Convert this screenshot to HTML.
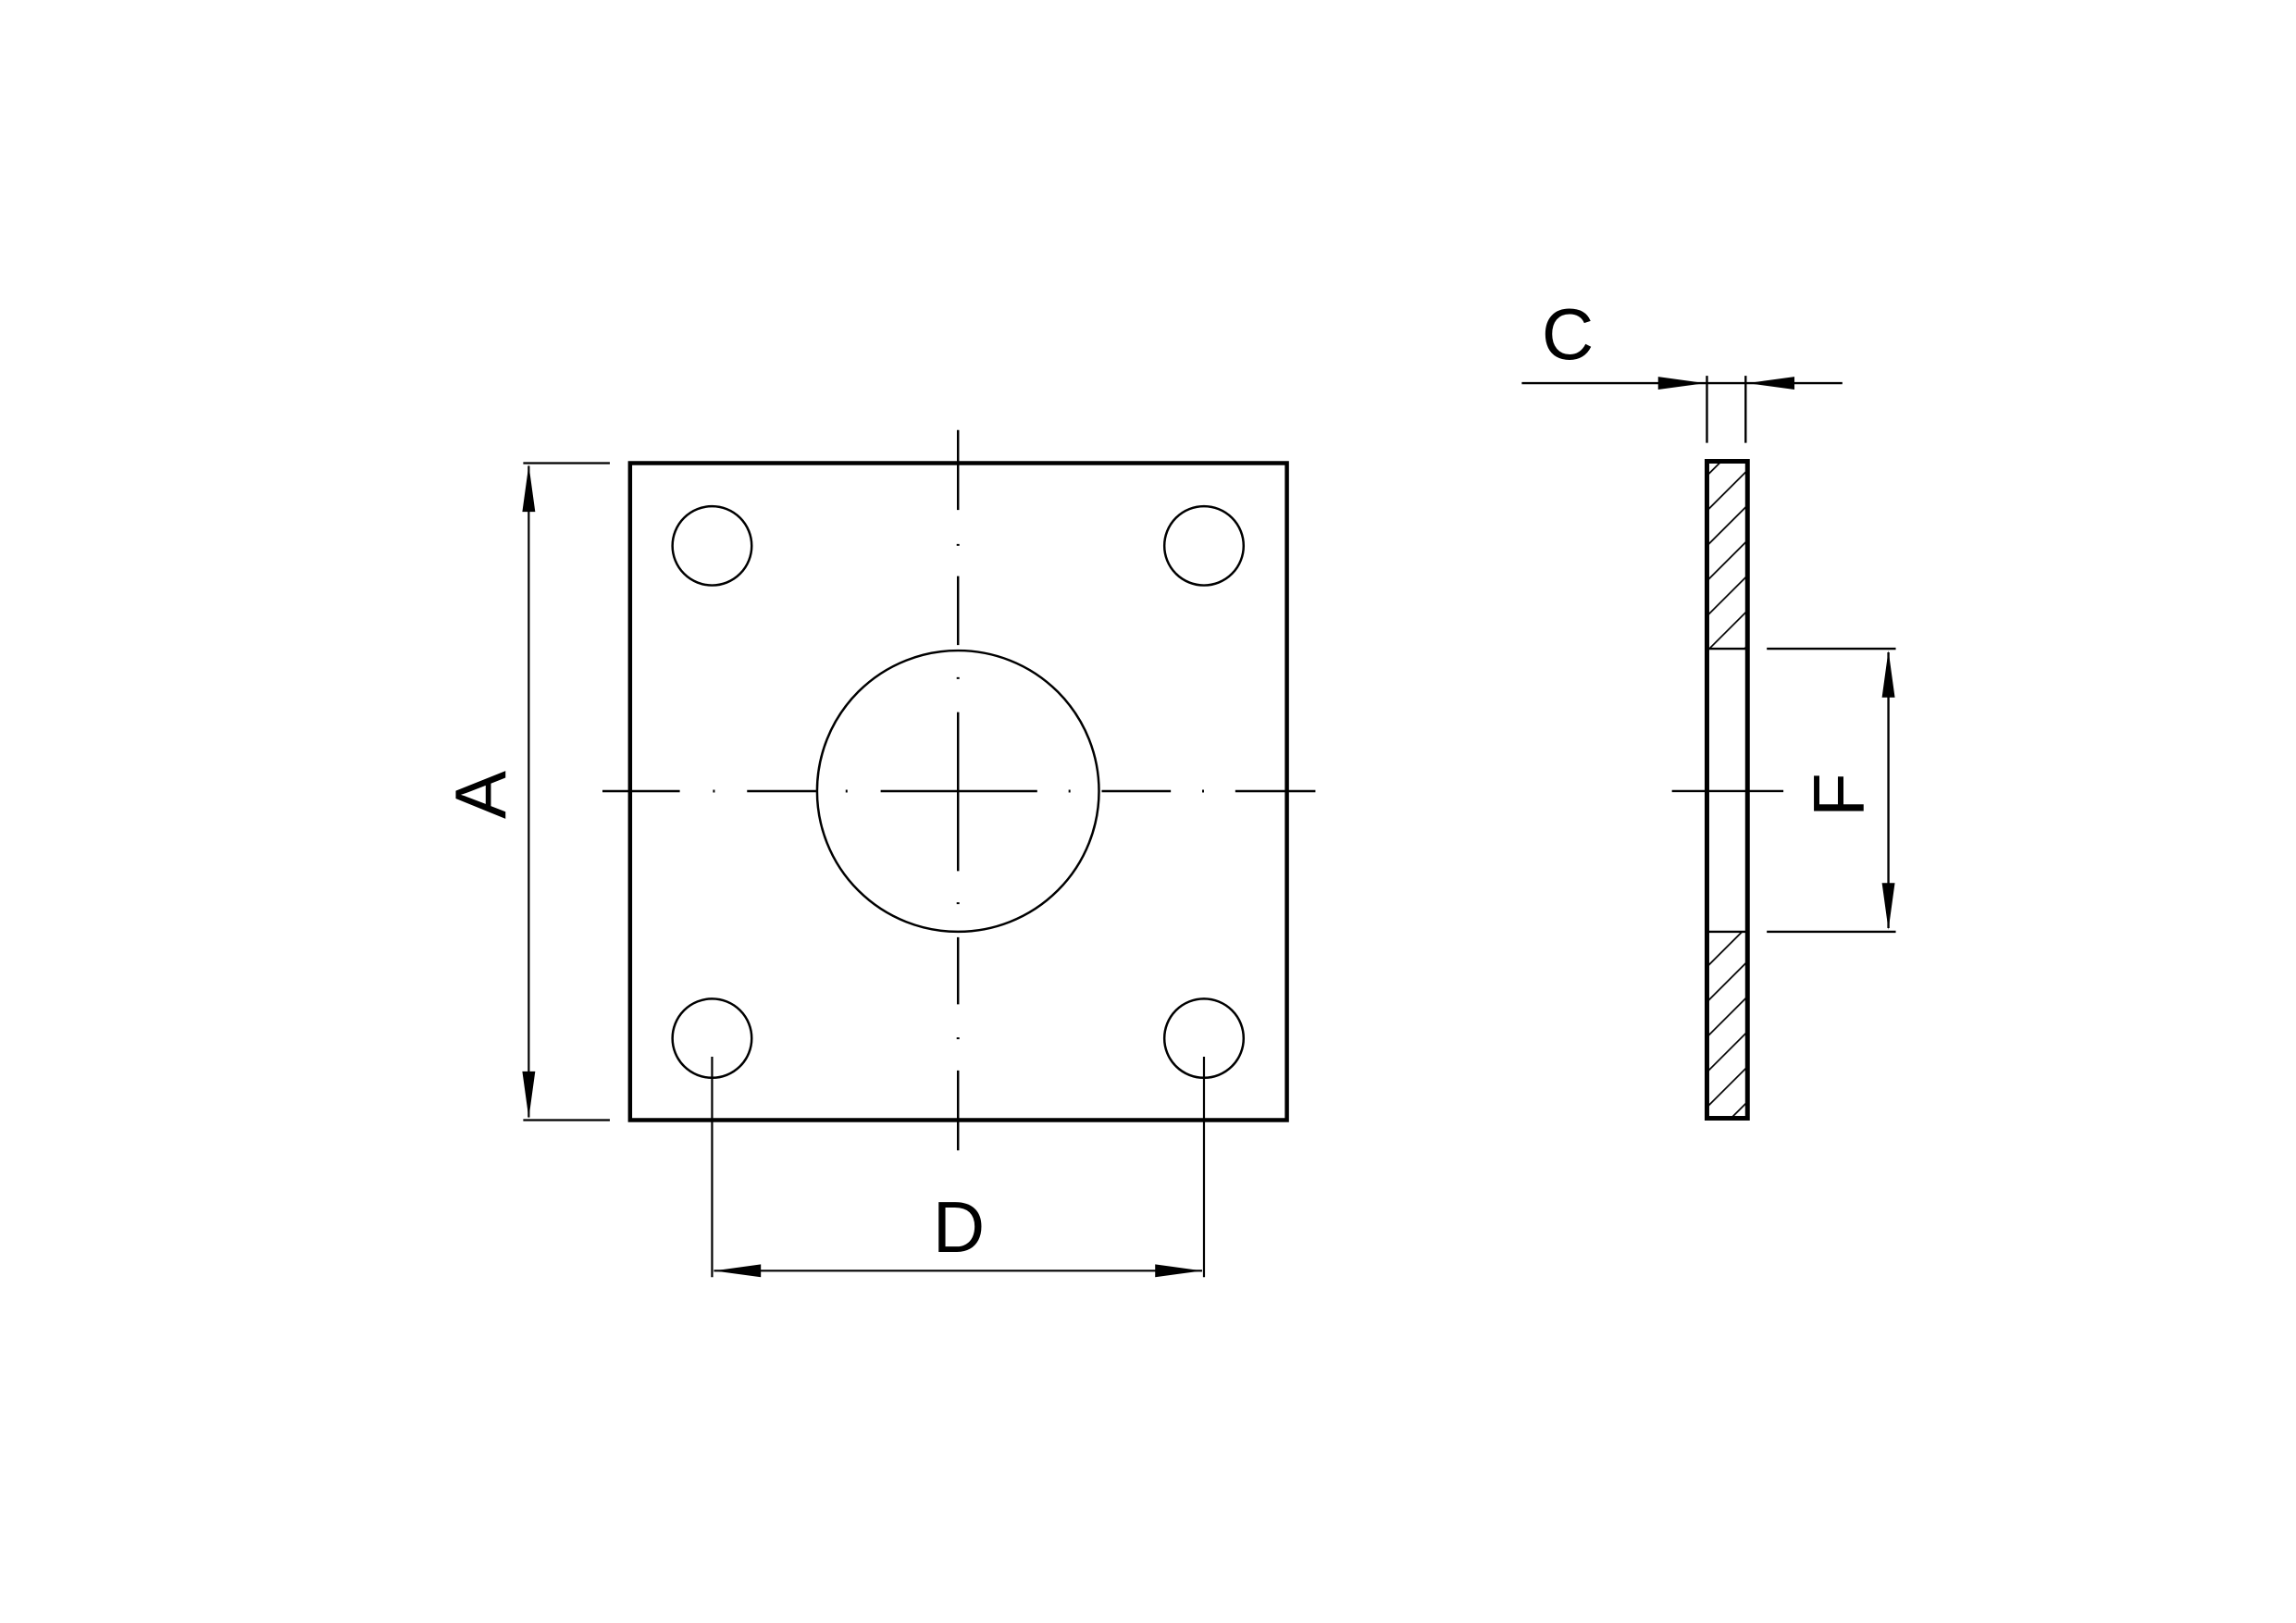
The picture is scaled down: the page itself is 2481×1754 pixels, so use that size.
<!DOCTYPE html>
<html><head><style>html,body{margin:0;padding:0;background:#fff}svg{display:block}</style></head>
<body>
<svg width="2481" height="1754" viewBox="0 0 2481 1754" xmlns="http://www.w3.org/2000/svg">
<defs>
<pattern id="h" patternUnits="userSpaceOnUse" width="27" height="27" patternTransform="rotate(45)">
<line x1="0" y1="0" x2="0" y2="27" stroke="#000" stroke-width="3.5"/>
</pattern>
<clipPath id="c1"><rect x="1855" y="500" width="40" height="204"/></clipPath>
<clipPath id="c2"><rect x="1855" y="1012" width="40" height="203"/></clipPath>
</defs>
<g transform="matrix(0.9954,0,0,0.993,0,2)">
<g fill="none" stroke="#000">
<rect x="684" y="502" width="713" height="715" stroke-width="4.5"/>
<circle cx="1040" cy="859" r="153" stroke-width="2.5"/>
<circle cx="773" cy="592" r="43" stroke-width="2.5"/>
<circle cx="1307" cy="592" r="43" stroke-width="2.5"/>
<circle cx="773" cy="1128" r="43" stroke-width="2.5"/>
<circle cx="1307" cy="1128" r="43" stroke-width="2.5"/>
<g stroke-width="2.5">
<line x1="1040" y1="466" x2="1040" y2="553"/>
<line x1="1040" y1="625" x2="1040" y2="700"/>
<line x1="1040" y1="773" x2="1040" y2="946"/>
<line x1="1040" y1="1018" x2="1040" y2="1091"/>
<line x1="1040" y1="1163" x2="1040" y2="1250"/>
<line x1="654" y1="859" x2="738" y2="859"/>
<line x1="811" y1="859" x2="886" y2="859"/>
<line x1="956" y1="859" x2="1126" y2="859"/>
<line x1="1196" y1="859" x2="1271" y2="859"/>
<line x1="1341" y1="859" x2="1428" y2="859"/>
</g>
<g stroke-width="3">
<line x1="1040" y1="590" x2="1040" y2="592"/>
<line x1="1040" y1="735" x2="1040" y2="737"/>
<line x1="1040" y1="980" x2="1040" y2="982"/>
<line x1="1040" y1="1127" x2="1040" y2="1129"/>
<line x1="774" y1="859" x2="776" y2="859"/>
<line x1="918" y1="859" x2="920" y2="859"/>
<line x1="1160" y1="859" x2="1162" y2="859"/>
<line x1="1305" y1="859" x2="1307" y2="859"/>
</g>
<g stroke-width="2.2">
<line x1="568" y1="502" x2="662" y2="502"/>
<line x1="568" y1="1217" x2="662" y2="1217"/>
<line x1="574" y1="505" x2="574" y2="1214"/>
<line x1="773" y1="1148" x2="773" y2="1388"/>
<line x1="1307" y1="1148" x2="1307" y2="1388"/>
<line x1="775" y1="1381" x2="1305" y2="1381"/>
</g>
<rect x="1853" y="500" width="44" height="715" fill="url(#h)" stroke="none" clip-path="url(#c1)"/>
<rect x="1853" y="1012" width="44" height="203" fill="url(#h)" stroke="none" clip-path="url(#c2)"/>
<rect x="1853" y="500" width="44" height="715" fill="none" stroke-width="5"/>
<g stroke-width="2.4">
<line x1="1855" y1="704" x2="1895" y2="704"/>
<line x1="1855" y1="1012" x2="1895" y2="1012"/>
<line x1="1815" y1="859" x2="1936" y2="859"/>
<line x1="1918" y1="704" x2="2058" y2="704"/>
<line x1="1918" y1="1012" x2="2058" y2="1012"/>
<line x1="2050" y1="708" x2="2050" y2="1008"/>
<line x1="1652" y1="415" x2="2000" y2="415"/>
<line x1="1853" y1="407" x2="1853" y2="480"/>
<line x1="1895" y1="407" x2="1895" y2="480"/>
</g>
</g>
<g fill="#000">
<polygon points="574,504 567,555 581,555"/>
<polygon points="574,1215 567,1164 581,1164"/>
<polygon points="775,1381 826,1374 826,1388"/>
<polygon points="1305,1381 1254,1374 1254,1388"/>
<polygon points="2050,706 2043,757 2057,757"/>
<polygon points="2050,1010 2043,959 2057,959"/>
<polygon points="1851,415 1800,408 1800,422"/>
<polygon points="1897,415 1948,408 1948,422"/>
</g>
</g>
<g font-family="Liberation Sans, sans-serif" font-size="78" fill="#000" text-anchor="middle">
<text x="1036" y="1353">D</text>
<text x="1694" y="388">C</text>
<text transform="translate(546,859) rotate(-90)">A</text>
<text transform="translate(2014,859) rotate(-90)">F</text>
</g>
</svg>
</body></html>
